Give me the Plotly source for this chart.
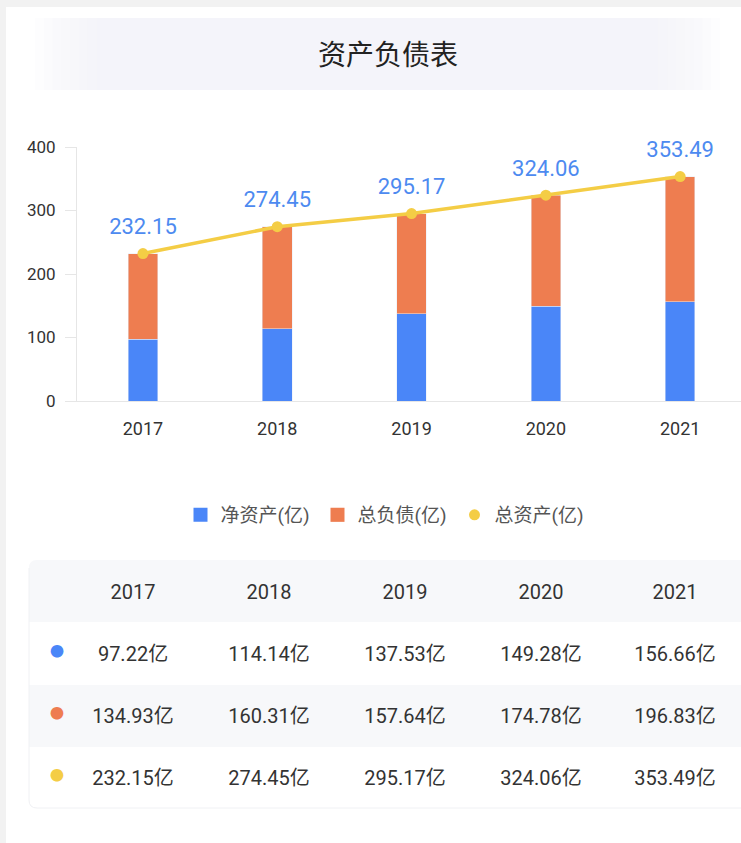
import plotly.graph_objects as go

years = ["2017", "2018", "2019", "2020", "2021"]
net_assets = [97.22, 114.14, 137.53, 149.28, 156.66]
total_liab = [134.93, 160.31, 157.64, 174.78, 196.83]
total_assets = [232.15, 274.45, 295.17, 324.06, 353.49]
y_ticks = [0, 100, 200, 300, 400]
names = ["净资产(亿)", "总负债(亿)", "总资产(亿)"]
unit = "亿"
title = "资产负债表"

W, H = 741, 843
BLUE = "#4a86f8"
ORANGE = "#ee7d50"
YELLOW = "#f4cd45"
LABEL_BLUE = "#4d8af0"
TXT = "#333333"
FONT = "Roboto, Noto Sans CJK SC, sans-serif"


def px_x(v):
    return v / W


def px_y(v):
    return (H - v) / H


fig = go.Figure()

fig.add_trace(go.Bar(
    x=years, y=net_assets, name=names[0], marker_color=BLUE,
    width=0.22, hoverinfo="skip", showlegend=False,
))
fig.add_trace(go.Bar(
    x=years, y=total_liab, name=names[1], marker_color=ORANGE,
    width=0.22, hoverinfo="skip", showlegend=False,
))
fig.add_trace(go.Scatter(
    x=years, y=total_assets, name=names[2], mode="lines+markers",
    line=dict(color=YELLOW, width=3.5), marker=dict(color=YELLOW, size=11),
    hoverinfo="skip", showlegend=False,
))
# value labels above the total-asset points
fig.add_trace(go.Scatter(
    x=years, y=total_assets, mode="markers+text",
    text=[f"{v:.2f}" for v in total_assets], textposition="top center",
    textfont=dict(family=FONT, size=22, color=LABEL_BLUE),
    marker=dict(size=21, color="rgba(0,0,0,0)"),
    hoverinfo="skip", showlegend=False, cliponaxis=False,
))
# legend entries (symbol only)
for nm, col, sym, sz in [(names[0], BLUE, "square", 14), (names[1], ORANGE, "square", 14),
                         (names[2], YELLOW, "circle", 11)]:
    fig.add_trace(go.Scatter(
        x=[None], y=[None], name=nm, mode="markers",
        marker=dict(color=col, symbol=sym, size=sz), hoverinfo="skip",
    ))

annotations = [dict(
    text=title, xref="paper", yref="paper", x=px_x(388), y=px_y(53),
    showarrow=False, xanchor="center", yanchor="middle",
    font=dict(family="Noto Sans CJK SC", size=28, color="#222222"),
)]

# table (text only; row backgrounds drawn as shapes)
header_vals = [""] + years
cols = [["●", "●", "●"]]
for i in range(len(years)):
    cols.append([f"{net_assets[i]:.2f}{unit}", f"{total_liab[i]:.2f}{unit}",
                 f"{total_assets[i]:.2f}{unit}"])
TSHIFT = 15.5
fig.add_trace(go.Table(
    domain=dict(x=[px_x(49), 1.0], y=[px_y(808 + TSHIFT), px_y(560 + TSHIFT)]),
    columnwidth=[16, 136, 136, 136, 136, 132],
    header=dict(
        values=header_vals, height=62, align="center",
        fill_color="rgba(0,0,0,0)", line_color="rgba(0,0,0,0)",
        font=dict(family=FONT, size=20, color=TXT),
    ),
    cells=dict(
        values=cols, height=62, align="center",
        fill_color="rgba(0,0,0,0)", line_color="rgba(0,0,0,0)",
        font=dict(family=FONT, size=[14, 20, 20, 20, 20, 20],
                  color=[[BLUE, ORANGE, YELLOW]] + [TXT] * 5),
    ),
))

shapes = [
    dict(type="rect", xref="paper", yref="paper", x0=px_x(6), x1=1.0,
         y0=0, y1=px_y(7), fillcolor="#ffffff", line_width=0, layer="below"),
]
# title band with soft horizontal fade
band_l, band_r, band_t, band_b = 35, 720, 18, 90
n = 8
fade = 70
for k in range(n):
    shapes.append(dict(type="rect", xref="paper", yref="paper",
                       x0=px_x(band_l + fade * k / n), x1=px_x(band_r - fade * k / n),
                       y0=px_y(band_b), y1=px_y(band_t),
                       fillcolor="#f3f6fc", opacity=0.18, line_width=0, layer="below"))
# table backgrounds
shapes.append(dict(type="path", xref="paper", yref="paper",
                   path=f"M {px_x(29)},{px_y(568)} Q {px_x(29)},{px_y(560)} {px_x(37)},{px_y(560)} "
                        f"L 1,{px_y(560)} L 1,{px_y(622)} L {px_x(29)},{px_y(622)} Z",
                   fillcolor="#f7f8fa", line_width=0, layer="below"))
shapes.append(dict(type="rect", xref="paper", yref="paper", x0=px_x(29), x1=1.0,
                   y0=px_y(747), y1=px_y(685), fillcolor="#f7f8fa", line_width=0, layer="below"))
shapes.append(dict(type="path", xref="paper", yref="paper",
                   path=f"M {px_x(29)},{px_y(568)} L {px_x(29)},{px_y(800)} "
                        f"Q {px_x(29)},{px_y(808)} {px_x(37)},{px_y(808)} L 1,{px_y(808)}",
                   line=dict(color="#f0f1f4", width=1), layer="below"))

fig.update_layout(
    width=W, height=H,
    margin=dict(l=0, r=0, t=0, b=0, pad=0, autoexpand=False),
    paper_bgcolor="#f2f2f2",
    plot_bgcolor="rgba(0,0,0,0)",
    barmode="stack",
    showlegend=True,
    shapes=shapes,
    annotations=annotations,
    font=dict(family=FONT, color=TXT),
    xaxis=dict(
        domain=[px_x(77), 1.0], range=[-0.491, 4.453], type="category",
        showline=True, linecolor="#e6e6e6", linewidth=1, showgrid=False,
        ticks="", tickfont=dict(size=18, color=TXT), ticklabelstandoff=11,
        fixedrange=True, automargin=False,
    ),
    yaxis=dict(
        domain=[px_y(401), px_y(147)], range=[0, 400], tickvals=y_ticks,
        showline=True, linecolor="#e6e6e6", linewidth=1, showgrid=False,
        ticks="outside", ticklen=11, tickcolor="#e6e6e6",
        tickfont=dict(size=17, color=TXT), ticklabelstandoff=6,
        zeroline=False, fixedrange=True, automargin=False,
    ),
    legend=dict(
        orientation="h", x=px_x(386), xanchor="center", y=px_y(515), yanchor="middle",
        font=dict(family=FONT, size=19, color="#555555"),
        bgcolor="rgba(0,0,0,0)", traceorder="normal",
        entrywidth=92, entrywidthmode="pixels",
    ),
)

fig.write_html("out.html", config={"displayModeBar": False},
               post_script="document.body.style.margin='0';")
